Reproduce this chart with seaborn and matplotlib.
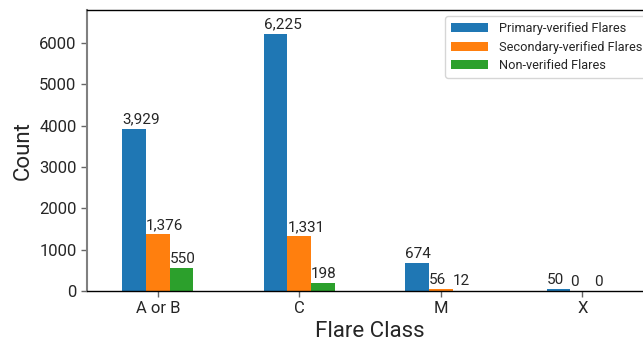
import matplotlib
matplotlib.use("Agg")
import matplotlib.pyplot as plt
import seaborn as sns
import pandas as pd

flare_classes = ["A or B", "C", "M", "X"]
primary_verified = [3929, 6225, 674, 50]
secondary_verified = [1376, 1331, 56, 0]
non_verified = [550, 198, 12, 0]
series_names = ["Primary-verified Flares", "Secondary-verified Flares", "Non-verified Flares"]

df = pd.DataFrame({
    "Flare Class": flare_classes * 3,
    "Count": primary_verified + secondary_verified + non_verified,
    "Type": [n for n in series_names for _ in flare_classes],
})

sns.set_style("white")
plt.rcParams["font.family"] = ["Roboto", "DejaVu Sans"]

fig = plt.figure(figsize=(6.43, 3.41), dpi=100)
ax = fig.add_axes([87 / 643, 50 / 341, (653 - 87) / 643, (291 - 10) / 341])

palette = ["#1f77b4", "#ff7f0e", "#2ca02c"]
sns.barplot(data=df, x="Flare Class", y="Count", hue="Type", hue_order=series_names,
            order=flare_classes, palette=palette, width=0.5, gap=0, saturation=1,
            edgecolor="none", ax=ax)

for p in ax.patches:
    h = p.get_height()
    if p.get_width() == 0:
        continue
    ax.annotate(f"{int(round(h)):,}", (p.get_x(), h), xytext=(0, 1.5),
                textcoords="offset points", ha="left", va="bottom", fontsize=11)

ax.set_xlim(-0.5, 3.5)
ax.set_ylim(0, 6800)
ax.set_xlabel("Flare Class", fontsize=16, labelpad=3)
ax.set_ylabel("Count", fontsize=16)
ax.tick_params(axis="both", labelsize=12, length=4, width=1, bottom=True, left=True,
               color="#666666")
ax.set_yticks([0, 1000, 2000, 3000, 4000, 5000, 6000])

for s in ["top", "right", "bottom"]:
    ax.spines[s].set_color("black")
    ax.spines[s].set_linewidth(1)
ax.spines["left"].set_color("#808080")
ax.spines["left"].set_linewidth(1.5)

leg = ax.legend(loc="upper left", bbox_to_anchor=(445 / 643, 1 - 16 / 341),
                bbox_transform=fig.transFigure, fontsize=9.2, frameon=True, title=None,
                handlelength=2.9, handletextpad=0.8, labelspacing=0.4, borderpad=0.5,
                borderaxespad=0)
leg.get_frame().set_edgecolor("#cccccc")

fig.savefig("out.png", dpi=100)
